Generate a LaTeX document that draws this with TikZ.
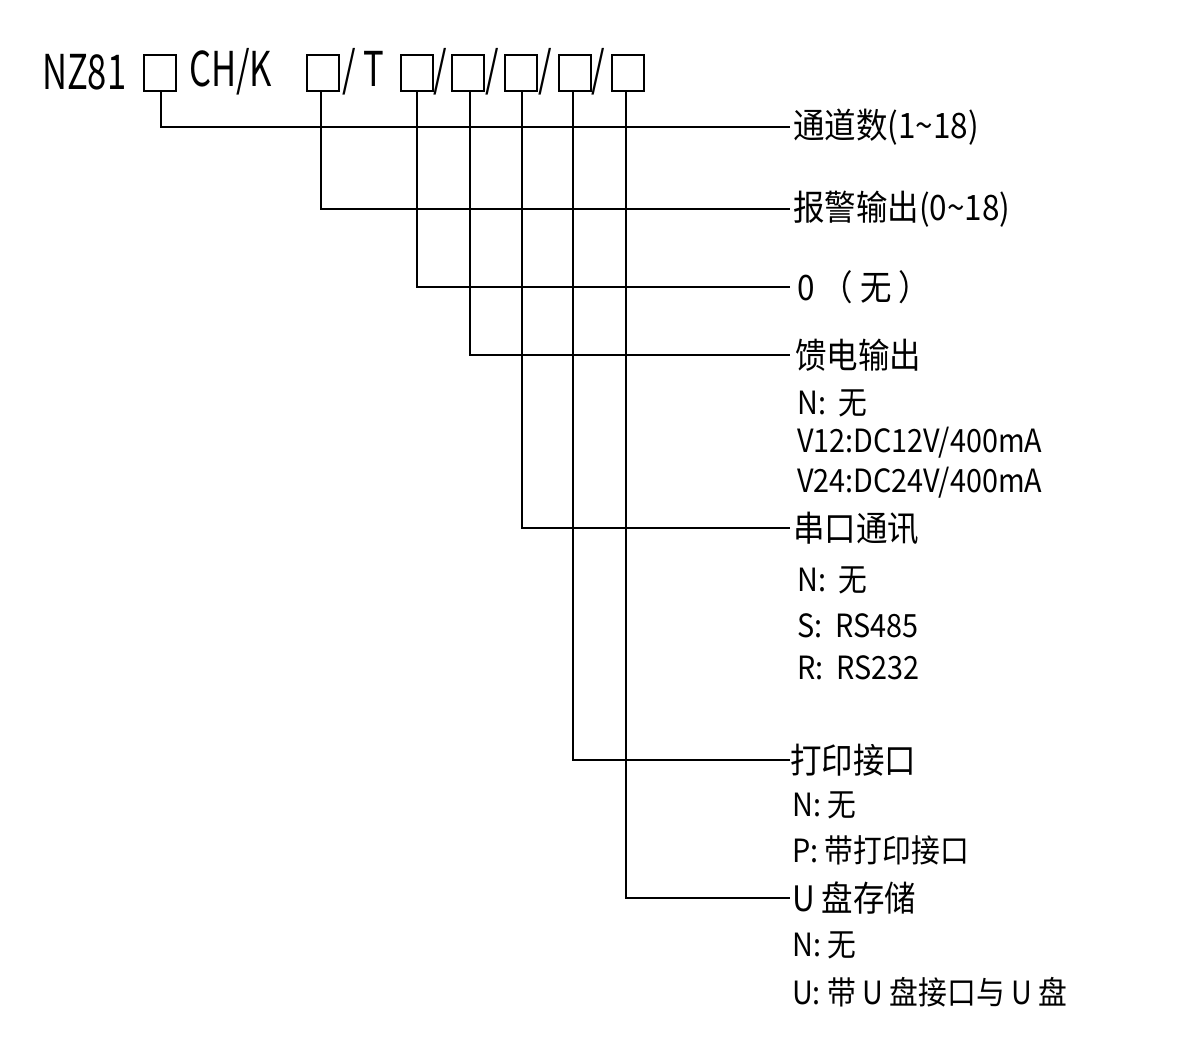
\documentclass[tikz,border=0pt]{standalone}
\usepackage{fontspec}
\setmainfont{Noto Sans CJK SC}
\begin{document}
\begin{tikzpicture}[x=1pt,y=-1pt,
 bx/.style={draw,line width=1.6pt,minimum width=32pt,minimum height=36pt,inner sep=0pt},
 hd/.style={font=\fontsize{48}{48}\selectfont,inner sep=0pt,anchor=west,xscale=0.72},
 lb/.style={font=\fontsize{35}{35}\selectfont,inner sep=0pt,anchor=west,xscale=0.9},
 sb/.style={font=\fontsize{32}{32}\selectfont,inner sep=0pt,anchor=west,xscale=0.9},
 ln/.style={line width=1.4pt}]
\useasboundingbox (0,0) rectangle (1200,1046);
\node[hd] (t1) at (42,72) {NZ81};
\node[bx] (b1) at (160,73) {};
\node[hd] (t2) at (189,72) {CH/K};
\node[bx] (b2) at (323,73) {};
\node[hd] (t3) at (342,72) {/ T};
\node[bx] (b3) at (417,73) {};
\node[hd] (t4) at (433,72) {/};
\node[bx] (b4) at (468,73) {};
\node[hd] (t5) at (485,72) {/};
\node[bx] (b5) at (521,73) {};
\node[hd] (t6) at (538,72) {/};
\node[bx] (b6) at (575,73) {};
\node[hd] (t7) at (591,72) {/};
\node[bx] (b7) at (628,73) {};
\coordinate (e1) at (790,127);
\coordinate (e2) at (790,209);
\coordinate (e3) at (790,287);
\coordinate (e4) at (790,355);
\coordinate (e5) at (790,528);
\coordinate (e6) at (790,760);
\coordinate (e7) at (790,898);
\foreach \i/\xx in {1/161,2/321,3/417,4/470,5/522,6/573,7/626}{
 \draw[ln] (\xx,91) |- (e\i);
}
\node[lb] (l1) at (793,127) {通道数(1\textasciitilde18)};
\node[lb] (l2) at (793,209) {报警输出(0\textasciitilde18)};
\node[lb] (l3) at (797,287) {0 （ 无 ）};
\node[lb] (l4) at (795,355) {馈电输出};
\node[sb] (s41) at (797,403) {N:\ \ 无};
\node[sb] (s42) at (797,443) {V12:DC12V/400mA};
\node[sb] (s43) at (797,483) {V24:DC24V/400mA};
\node[lb] (l5) at (793,528) {串口通讯};
\node[sb] (s51) at (797,580) {N:\ \ 无};
\node[sb] (s52) at (797,626) {S:\ \ RS485};
\node[sb] (s53) at (797,668) {R:\ \ RS232};
\node[lb] (l6) at (790,760) {打印接口};
\node[sb] (s61) at (792,805) {N: 无};
\node[sb] (s62) at (792,850) {P: 带打印接口};
\node[lb] (l7) at (792,898) {U 盘存储};
\node[sb] (s71) at (792,945) {N: 无};
\node[sb] (s72) at (792,992) {U: 带 U 盘接口与 U 盘};
\end{tikzpicture}
\end{document}
